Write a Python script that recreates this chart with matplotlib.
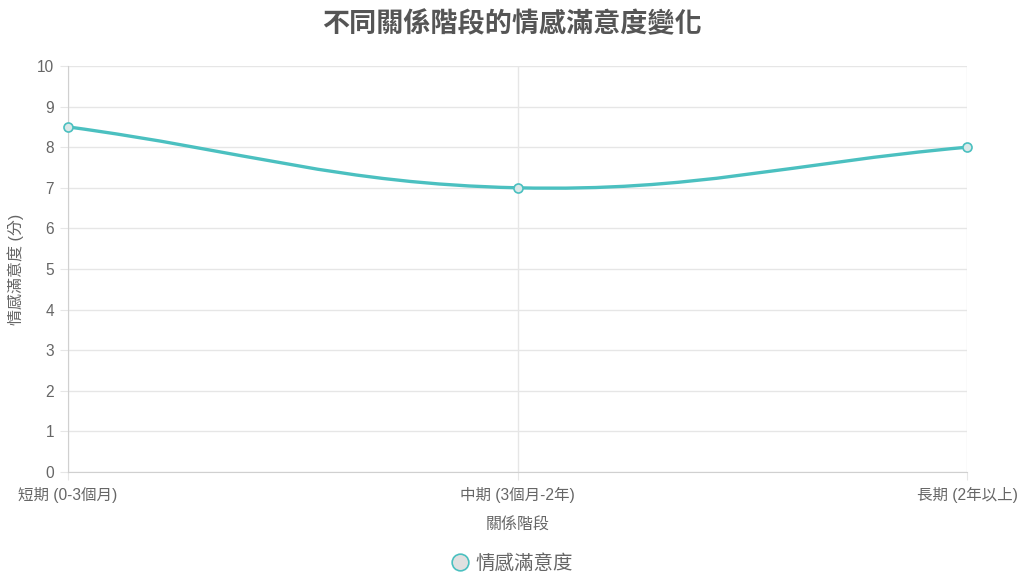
import matplotlib
matplotlib.use("Agg")
import matplotlib.pyplot as plt
import numpy as np
from matplotlib.path import Path
from matplotlib.patches import PathPatch
from matplotlib.lines import Line2D

plt.rcParams['font.family'] = ['Liberation Sans', 'Noto Sans CJK TC', 'DejaVu Sans']

categories = ['短期 (0-3個月)', '中期 (3個月-2年)', '長期 (2年以上)']
satisfaction = [8.5, 7, 8]
series_name = '情感滿意度'
title = '不同關係階段的情感滿意度變化'
xlabel = '關係階段'
ylabel = '情感滿意度 (分)'

LINE = '#4bc0c0'
PFILL = '#dbe9e9'
TXT = '#666666'
GRID = '#e6e6e6'

fig = plt.figure(figsize=(10.24, 5.87), dpi=100)
ax = fig.add_axes([68/1024, 1-472/587, (967-68)/1024, (472-66)/587])
ax.set_xlim(0, len(categories)-1)
ax.set_ylim(0, 10)
ax.set_yticks(range(0, 11))
ax.set_xticks(range(len(categories)))
ax.set_xticklabels(categories)
ax.grid(True, color=GRID, linewidth=1)
ax.set_axisbelow(True)
for s in ['top', 'right']:
    ax.spines[s].set_visible(False)
for s in ['left', 'bottom']:
    ax.spines[s].set_color('#d0d0d0')
ax.tick_params(axis='both', colors=GRID, labelcolor=TXT, labelsize=11.2, length=6)
ax.tick_params(axis='y', pad=4)
ax.tick_params(axis='x', pad=5)
ax.set_xlabel(xlabel, color=TXT, fontsize=11.5, labelpad=10)
ax.set_ylabel(ylabel, color=TXT, fontsize=11.5, labelpad=9)
fig.suptitle(title, x=0.5, y=0.98, fontsize=19.5, fontweight='bold', color='#555555')

# Chart.js-like spline (tension 0.4) drawn through the data via Bezier path
xs = np.arange(len(satisfaction), dtype=float)
ys = np.array(satisfaction, dtype=float)
pts = ax.transData.transform(np.column_stack([xs, ys]))
t = 0.4
n = len(pts)
cp_prev = np.zeros_like(pts)
cp_next = np.zeros_like(pts)
for i in range(n):
    prev = pts[i-1] if i > 0 else pts[i]
    cur = pts[i]
    nxt = pts[i+1] if i < n-1 else pts[i]
    d01 = np.hypot(*(cur-prev))
    d12 = np.hypot(*(nxt-cur))
    tot = d01 + d12
    s01 = d01/tot if tot else 0
    s12 = d12/tot if tot else 0
    cp_prev[i] = cur - t*s01*(nxt-prev)
    cp_next[i] = cur + t*s12*(nxt-prev)
verts = [pts[0]]
codes = [Path.MOVETO]
for i in range(n-1):
    verts += [cp_next[i], cp_prev[i+1], pts[i+1]]
    codes += [Path.CURVE4]*3
inv = ax.transData.inverted()
verts_d = inv.transform(np.array(verts))
patch = PathPatch(Path(verts_d, codes), facecolor='none', edgecolor=LINE,
                  linewidth=2.4, transform=ax.transData, zorder=3, clip_on=False)
ax.add_patch(patch)
ax.plot(xs, ys, linestyle='none', marker='o', markersize=6.5,
        markerfacecolor=PFILL, markeredgecolor=LINE, markeredgewidth=1.2,
        zorder=4, clip_on=False)

handle = Line2D([], [], linestyle='none', marker='o', markersize=12,
                markerfacecolor='#e0e0e0', markeredgecolor=LINE, markeredgewidth=1.2)
fig.legend([handle], [series_name], loc='center', bbox_to_anchor=(0.5, 1-563/587),
           frameon=False, fontsize=14, labelcolor=TXT, handletextpad=0.3,
           handlelength=1.0)

fig.savefig('out.png', dpi=100)
